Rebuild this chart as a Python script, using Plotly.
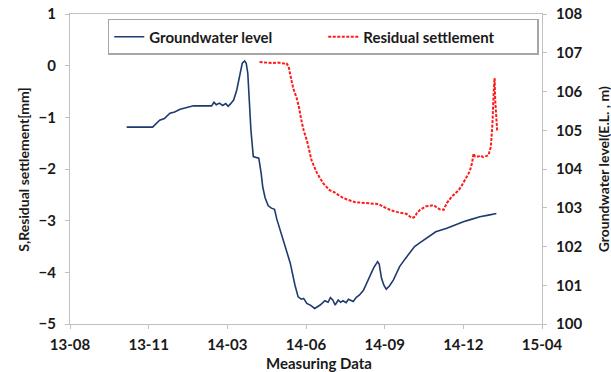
import plotly.graph_objects as go

# Groundwater level (right axis, E.L. m)
gw_dates = [
    "2013-10-26", "2013-11-28", "2013-12-07", "2013-12-13", "2013-12-20", "2013-12-26",
    "2014-01-02", "2014-01-12", "2014-01-19", "2014-02-01", "2014-02-11", "2014-02-14",
    "2014-02-17", "2014-02-21", "2014-02-25", "2014-03-01", "2014-03-04", "2014-03-07",
    "2014-03-11", "2014-03-15", "2014-03-19", "2014-03-22", "2014-03-25", "2014-03-27",
    "2014-03-29", "2014-03-31", "2014-04-02", "2014-04-05", "2014-04-08", "2014-04-12",
    "2014-04-15", "2014-04-17", "2014-04-20", "2014-04-24", "2014-04-28", "2014-05-02",
    "2014-05-05", "2014-05-13", "2014-05-22", "2014-05-28", "2014-06-01", "2014-06-05",
    "2014-06-08", "2014-06-12", "2014-06-17", "2014-06-22", "2014-06-26", "2014-06-29",
    "2014-07-05", "2014-07-09", "2014-07-12", "2014-07-15", "2014-07-18", "2014-07-22",
    "2014-07-25", "2014-07-28", "2014-08-01", "2014-08-04", "2014-08-06", "2014-08-10",
    "2014-08-14", "2014-08-18", "2014-08-23", "2014-08-31", "2014-09-05", "2014-09-10",
    "2014-09-12", "2014-09-15", "2014-09-18", "2014-09-21", "2014-09-25", "2014-09-30",
    "2014-10-08", "2014-10-15", "2014-10-21", "2014-10-27", "2014-11-03", "2014-11-11",
    "2014-11-23", "2014-12-07", "2014-12-18", "2014-12-28", "2015-01-07", "2015-01-18",
    "2015-01-29", "2015-02-08",
]
gw_level = [
    105.08, 105.08, 105.26, 105.30, 105.44, 105.47,
    105.54, 105.59, 105.63, 105.63, 105.63, 105.72,
    105.66, 105.70, 105.64, 105.69, 105.62, 105.68,
    105.78, 106.04, 106.47, 106.73, 106.79, 106.73,
    106.47, 105.78, 105.00, 104.32, 104.30, 104.28,
    103.89, 103.54, 103.26, 103.05, 102.99, 102.96,
    102.70, 102.17, 101.57, 101.00, 100.70, 100.64,
    100.66, 100.53, 100.48, 100.40, 100.45, 100.49,
    100.60, 100.56, 100.68, 100.62, 100.49, 100.62,
    100.56, 100.60, 100.55, 100.64, 100.62, 100.58,
    100.69, 100.75, 100.87, 101.25, 101.45, 101.61,
    101.55, 101.18, 101.00, 100.90, 100.98, 101.13,
    101.48, 101.68, 101.83, 102.00, 102.10, 102.22,
    102.38, 102.47, 102.57, 102.64, 102.70, 102.77,
    102.81, 102.85,
]

# Residual settlement S (left axis, mm)
rs_dates = [
    "2014-04-13", "2014-04-22", "2014-04-30", "2014-05-07", "2014-05-14", "2014-05-17",
    "2014-05-20", "2014-05-23", "2014-05-26", "2014-05-30", "2014-06-02", "2014-06-05",
    "2014-06-08", "2014-06-12", "2014-06-18", "2014-06-25", "2014-07-03", "2014-07-11",
    "2014-07-17", "2014-07-22", "2014-07-27", "2014-08-02", "2014-08-08", "2014-08-14",
    "2014-08-20", "2014-08-27", "2014-09-04", "2014-09-11", "2014-09-16", "2014-09-21",
    "2014-09-27", "2014-10-04", "2014-10-11", "2014-10-17", "2014-10-21", "2014-10-24",
    "2014-10-28", "2014-10-30", "2014-11-03", "2014-11-08", "2014-11-11", "2014-11-16",
    "2014-11-20", "2014-11-24", "2014-11-28", "2014-12-03", "2014-12-07", "2014-12-13",
    "2014-12-18", "2014-12-22", "2014-12-26", "2014-12-30", "2015-01-03", "2015-01-05",
    "2015-01-08", "2015-01-10", "2015-01-12", "2015-01-16", "2015-01-19", "2015-01-22",
    "2015-01-26", "2015-01-29", "2015-02-01", "2015-02-03", "2015-02-04 12:00",
    "2015-02-05 18:00", "2015-02-06 12:00", "2015-02-07", "2015-02-07 12:00",
    "2015-02-08", "2015-02-09", "2015-02-10",
]
rs_settlement = [
    0.07, 0.06, 0.05, 0.06, 0.04, 0.05,
    -0.02, -0.25, -0.45, -0.62, -0.80, -1.05,
    -1.25, -1.44, -1.83, -2.08, -2.28, -2.41,
    -2.45, -2.50, -2.55, -2.59, -2.62, -2.65,
    -2.65, -2.66, -2.66, -2.68, -2.72, -2.76,
    -2.80, -2.83, -2.85, -2.87, -2.92, -2.95,
    -2.92, -2.85, -2.79, -2.74, -2.72, -2.71,
    -2.70, -2.74, -2.78, -2.79, -2.66, -2.54,
    -2.46, -2.41, -2.32, -2.21, -2.10, -2.05,
    -1.89, -1.70, -1.76, -1.76, -1.74, -1.77,
    -1.75, -1.73, -1.57, -1.12, -0.54,
    -0.24, -0.66, -0.85, -0.70,
    -1.05, -1.25, -1.28,
]

FONT = "Lato, 'Open Sans', sans-serif"
AXIS_GREY = "#c0c0c0"
TEXT = "#1a1a1a"

fig = go.Figure()
fig.add_trace(go.Scatter(
    x=gw_dates, y=gw_level, name="Groundwater level", yaxis="y2",
    mode="lines", line=dict(color="#1f3a6e", width=1.6),
))
fig.add_trace(go.Scatter(
    x=rs_dates, y=rs_settlement, name="Residual settlement", yaxis="y",
    mode="lines", line=dict(color="#ff1a1a", width=2, dash="3px,1.5px"),
))

tick_font = dict(family=FONT, size=15, color=TEXT, weight="bold")

fig.update_layout(
    width=611, height=372,
    margin=dict(l=70, r=69, t=14, b=48, autoexpand=False),
    paper_bgcolor="white", plot_bgcolor="white",
    showlegend=True,
    legend=dict(
        orientation="h", x=0.08, xanchor="left", y=0.984, yanchor="top",
        bordercolor="#a6a6a6", borderwidth=1.5, bgcolor="white",
        font=dict(family=FONT, size=15, color=TEXT, weight="bold"),
        entrywidth=169, itemwidth=30, tracegroupgap=0,
    ),
    xaxis=dict(
        type="date", range=["2013-08-15", "2015-04-07"],
        tick0="2013-08-15", dtick=100 * 86400000, tickformat="%y-%m",
        showline=True, linecolor=AXIS_GREY, linewidth=1, mirror=True,
        ticks="outside", ticklen=4, tickcolor=AXIS_GREY,
        showgrid=False, zeroline=False, tickfont=tick_font, automargin=False,
        ticklabelstandoff=3,
    ),
    yaxis=dict(
        range=[-5, 1], dtick=1, tick0=-5,
        showline=True, linecolor=AXIS_GREY, linewidth=1,
        ticks="outside", ticklen=4, tickcolor=AXIS_GREY,
        showgrid=False, zeroline=False, tickfont=tick_font,
        ticklabelstandoff=6, automargin=False,
    ),
    yaxis2=dict(
        range=[100, 108], dtick=1, tick0=100, overlaying="y", side="right",
        showline=True, linecolor=AXIS_GREY, linewidth=1,
        ticks="outside", ticklen=4, tickcolor=AXIS_GREY,
        showgrid=False, zeroline=False, tickfont=tick_font,
        ticklabelstandoff=6, automargin=False,
    ),
    annotations=[
        dict(text="Measuring Data", xref="paper", yref="paper",
             x=0.5275, y=-0.126, xanchor="center", yanchor="middle",
             showarrow=False, font=dict(family=FONT, size=15, color=TEXT, weight="bold")),
        dict(text="S,Residual settlement[mm]", xref="paper", yref="paper",
             x=-0.1, y=0.5, xanchor="center", yanchor="middle", textangle=-90,
             showarrow=False, font=dict(family=FONT, size=14, color=TEXT, weight="bold")),
        dict(text="Groundwater level(E.L. , m)", xref="paper", yref="paper",
             x=1.13, y=0.5, xanchor="center", yanchor="middle", textangle=-90,
             showarrow=False, font=dict(family=FONT, size=14, color=TEXT, weight="bold")),
    ],
)

fig.write_html("out.html")
